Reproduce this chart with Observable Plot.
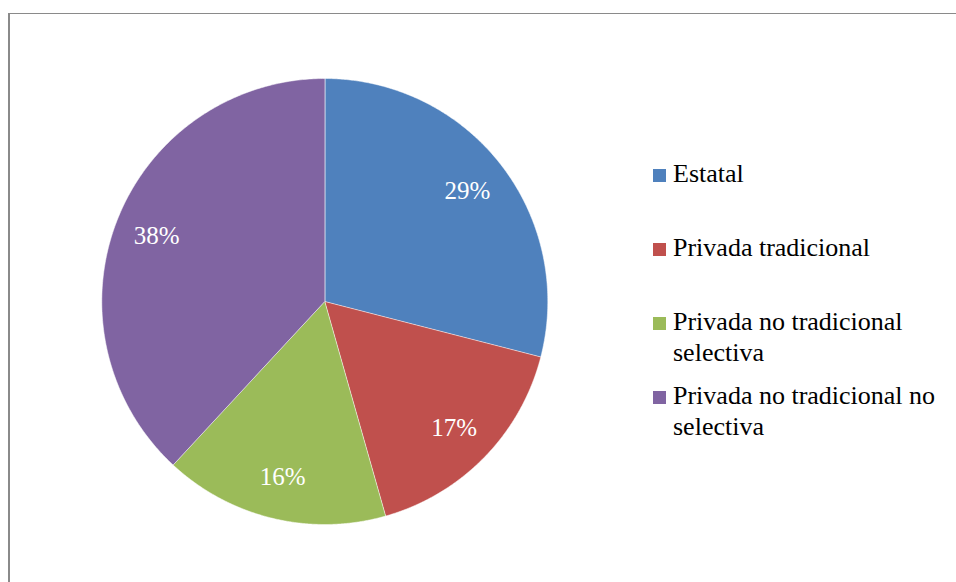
<!DOCTYPE html>
<html>
<head>
<meta charset="utf-8">
<script src="https://cdn.jsdelivr.net/npm/d3@7"></script>
<script src="https://cdn.jsdelivr.net/npm/@observablehq/plot@0.6"></script>
<style>
  html, body { margin: 0; padding: 0; background: #fff; }
  #wrap { position: relative; width: 956px; height: 582px; overflow: hidden; }
  #frame { position: absolute; left: 8px; top: 13px; width: 960px; height: 580px;
           border-top: 1px solid #8a8a8a; border-left: 2px solid #8a8a8a; box-sizing: border-box; }
  #chart { position: absolute; left: 0; top: 0; }
  #legend { position: absolute; left: 653px; top: 159px;
            font-family: "Liberation Serif", "Times New Roman", Times, "Tinos", "DejaVu Serif", serif;
            font-size: 26px; line-height: 30.7px; color: #000; }
  .item { position: relative; height: 74px; padding-left: 20px; width: 275px; }
  .sw { position: absolute; left: 0; top: 10px; width: 13px; height: 13px; }
  #chart text { font-family: "Liberation Serif", "Times New Roman", Times, "Tinos", "DejaVu Serif", serif; }
</style>
</head>
<body>
<div id="wrap">
  <div id="frame"></div>
  <div id="chart"></div>
  <div id="legend"></div>
</div>
<script>
const categories = ["Estatal", "Privada tradicional", "Privada no tradicional selectiva", "Privada no tradicional no selectiva"];
const values = [29.0, 16.6, 16.3, 38.1];
const labels = ["29%", "17%", "16%", "38%"];
const colors = ["#4F81BD", "#C0504D", "#9BBB59", "#8064A2"];

const arcs = d3.pie().sort(null).value(d => d)(values);

// slice outlines in unit-circle coordinates (angle 0 at top, clockwise)
const slicePoints = [];
arcs.forEach((a, i) => {
  slicePoints.push({cat: categories[i], x: 0, y: 0});
  const n = 240;
  for (let k = 0; k <= n; ++k) {
    const t = a.startAngle + (a.endAngle - a.startAngle) * k / n;
    slicePoints.push({cat: categories[i], x: Math.sin(t), y: Math.cos(t)});
  }
});

const labelData = arcs.map((a, i) => {
  const m = (a.startAngle + a.endAngle) / 2;
  return {text: labels[i], x: 0.81 * Math.sin(m), y: 0.81 * Math.cos(m)};
});

const cx = 324.3, cy = 301, R = 223, W = 956, H = 582;

const plot = Plot.plot({
  width: W,
  height: H,
  marginLeft: cx - R,
  marginRight: W - (cx + R),
  marginTop: cy - R,
  marginBottom: H - (cy + R),
  x: {domain: [-1, 1], axis: null},
  y: {domain: [-1, 1], axis: null},
  color: {domain: categories, range: colors},
  style: {background: "transparent", overflow: "visible",
          fontFamily: "'Liberation Serif', 'Times New Roman', Times, 'DejaVu Serif', serif"},
  marks: [
    Plot.line(slicePoints, {x: "x", y: "y", z: "cat", fill: "cat", stroke: "white",
      strokeWidth: 1, strokeOpacity: 0.5, curve: "linear-closed"}),
    Plot.text(labelData, {x: "x", y: "y", text: "text", fill: "white", fontSize: 25})
  ]
});
document.getElementById("chart").appendChild(plot);

const legend = document.getElementById("legend");
categories.forEach((c, i) => {
  const item = document.createElement("div");
  item.className = "item";
  const sw = document.createElement("span");
  sw.className = "sw";
  sw.style.background = colors[i];
  item.appendChild(sw);
  item.appendChild(document.createTextNode(c));
  legend.appendChild(item);
});
</script>
</body>
</html>
